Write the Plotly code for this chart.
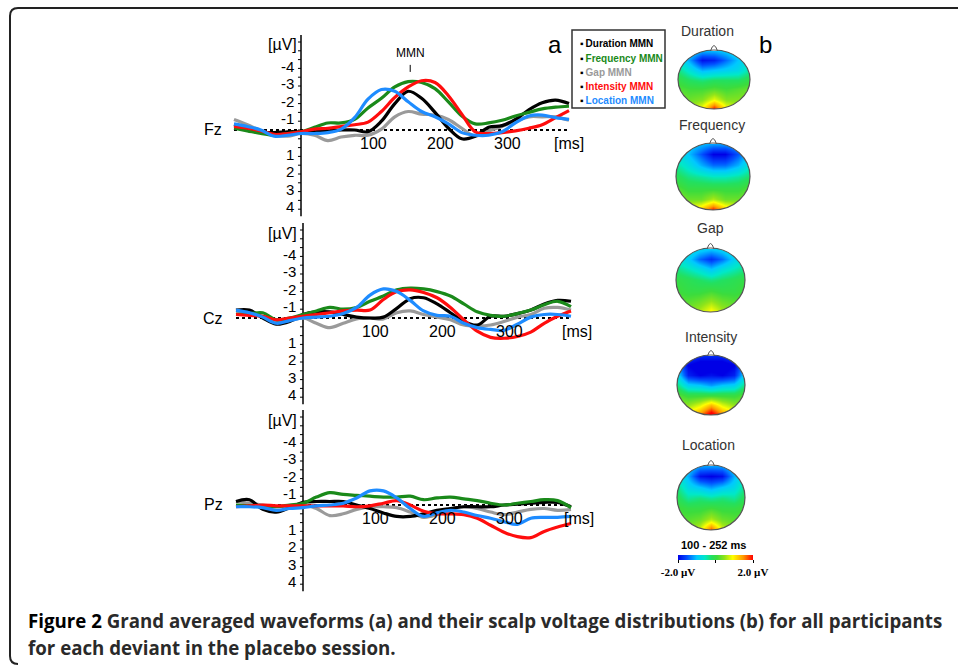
import plotly.graph_objects as go

W, H = 958, 666
def PX(x): return x / W
def PY(y): return 1 - y / H

# ---------------- DATA ----------------
times = [-100, -80, -60, -40, -20, 0, 20, 40, 60, 80, 100, 120, 140, 160, 180,
         200, 220, 240, 260, 280, 300, 320, 340, 360, 380, 400]

series_names = ["Duration MMN", "Frequency MMN", "Gap MMN", "Intensity MMN", "Location MMN"]
channels = ["Fz", "Cz", "Pz"]

# amplitudes in microvolts (negative = up)
fz_duration  = [-0.3,-0.1,0.1,0.15,0.1,0.1,0.1,0.05,0.0,0.0,0.1,-0.5,-1.5,-2.2,-1.8,-1.0,-0.1,0.5,0.35,-0.15,-0.25,-0.6,-1.15,-1.55,-1.7,-1.5]
fz_frequency = [-0.1,0.05,0.2,0.3,0.2,0.1,-0.15,-0.4,-0.4,-0.6,-1.25,-1.8,-2.45,-2.75,-2.7,-2.35,-1.6,-0.8,-0.35,-0.4,-0.55,-0.8,-1.0,-1.2,-1.3,-1.35]
fz_gap       = [-0.6,-0.3,0.05,0.3,0.35,0.2,0.3,0.6,0.4,0.3,0.3,-0.05,-0.75,-1.05,-0.9,-0.85,-0.6,-0.1,0.35,0.05,-0.2,-0.5,-0.75,-0.75,-0.75,-0.55]
fz_intensity = [-0.2,-0.1,0.05,0.25,0.2,0.1,-0.05,-0.1,-0.2,-0.3,-0.45,-1.05,-1.85,-2.45,-2.8,-2.7,-1.95,-0.9,0.1,0.2,0.15,0.05,-0.1,-0.3,-0.7,-1.1]
fz_location  = [-0.35,-0.2,0.0,0.35,0.3,0.2,0.2,0.15,-0.05,-0.7,-1.75,-2.3,-2.2,-1.6,-1.05,-0.75,-0.35,0.15,0.3,0.3,0.1,-0.4,-0.8,-0.85,-0.7,-0.6]

cz_duration  = [-0.45,-0.45,0.0,0.35,0.2,-0.2,-0.35,-0.35,-0.2,-0.05,0.0,-0.05,-0.55,-1.1,-1.15,-0.8,-0.3,0.2,0.4,-0.1,-0.1,-0.25,-0.45,-0.8,-1.0,-0.95]
cz_frequency = [-0.2,-0.25,-0.3,0.1,0.0,-0.2,-0.4,-0.6,-0.5,-0.6,-0.95,-1.25,-1.6,-1.7,-1.65,-1.5,-1.25,-0.8,-0.35,-0.15,-0.1,-0.25,-0.45,-0.75,-0.95,-0.65]
cz_gap       = [-0.3,-0.25,-0.1,0.2,0.15,0.0,0.3,0.55,0.3,0.05,0.0,0.05,-0.3,-0.4,-0.2,-0.05,0.1,0.4,0.45,0.4,0.2,-0.05,-0.2,-0.55,-0.6,-0.45]
cz_intensity = [-0.2,-0.15,-0.1,0.1,0.0,-0.1,-0.2,-0.3,-0.4,-0.45,-0.45,-1.05,-1.5,-1.6,-1.45,-1.15,-0.6,0.1,0.75,1.1,1.15,1.05,0.8,0.3,-0.1,-0.4]
cz_location  = [-0.45,-0.3,-0.05,0.3,0.15,0.0,-0.05,-0.1,-0.25,-0.6,-1.3,-1.65,-1.5,-1.0,-0.4,-0.15,-0.1,0.3,0.55,0.65,0.7,0.35,-0.05,-0.2,-0.2,-0.1]

pz_duration  = [-0.2,-0.3,0.25,0.4,0.15,-0.15,-0.2,-0.2,-0.2,0.0,0.2,0.45,0.65,0.65,0.5,0.3,0.2,0.1,0.1,0.1,0.0,-0.05,-0.1,-0.15,-0.15,0.1]
pz_frequency = [0.0,0.05,0.1,0.1,0.0,-0.1,-0.45,-0.7,-0.6,-0.55,-0.5,-0.45,-0.45,-0.5,-0.3,-0.4,-0.45,-0.35,-0.25,-0.1,0.0,-0.1,-0.2,-0.3,-0.25,0.15]
pz_gap       = [-0.2,-0.1,0.0,0.1,0.05,0.0,0.2,0.6,0.5,0.25,0.1,0.1,0.15,0.4,0.7,0.55,0.25,0.1,0.2,0.4,0.55,0.4,0.25,0.2,0.3,0.25]
pz_intensity = [0.1,0.05,0.0,0.05,0.05,0.05,0.05,0.05,0.05,0.1,0.05,-0.1,-0.25,0.0,0.35,0.5,0.5,0.55,0.75,1.15,1.55,1.8,1.85,1.5,1.25,1.05]
pz_location  = [0.1,0.1,0.15,0.3,0.2,0.15,0.05,0.0,-0.1,-0.4,-0.8,-0.8,-0.4,0.2,0.65,0.45,0.3,0.4,0.6,0.75,0.95,1.1,0.75,0.7,0.7,0.65]

y_ticks = [-4, -3, -2, -1, 1, 2, 3, 4]
x_ticks = [100, 200, 300]

# scalp maps (rows front->back, cols left->right), microvolts
map_titles = ["Duration", "Frequency", "Gap", "Intensity", "Location"]
map_duration = [
    [-0.6, -0.8, -1.0, -1.0, -0.9, -0.7, -0.6],
    [-0.6, -1.2, -1.9, -1.8, -1.4, -1.0, -0.6],
    [-0.3, -0.7, -1.1, -1.0, -0.9, -0.8, -0.4],
    [0.0, -0.2, -0.3, -0.2, -0.2, -0.2, 0.0],
    [0.2, 0.1, 0.1, 0.2, 0.1, 0.2, 0.3],
    [0.4, 0.3, 0.4, 0.8, 0.4, 0.4, 0.5],
    [0.5, 0.5, 1.0, 2.0, 1.0, 0.6, 0.6]]
map_frequency = [
    [-0.8, -0.9, -1.0, -1.1, -1.1, -1.0, -0.8],
    [-0.7, -1.0, -1.5, -2.0, -2.0, -1.5, -0.9],
    [-0.4, -0.7, -1.1, -1.4, -1.4, -1.1, -0.6],
    [-0.1, -0.3, -0.4, -0.5, -0.5, -0.4, -0.2],
    [0.2, 0.0, 0.0, 0.0, 0.0, 0.0, 0.2],
    [0.5, 0.3, 0.3, 0.6, 0.3, 0.3, 0.5],
    [0.8, 0.9, 1.3, 2.0, 1.3, 0.9, 0.8]]
map_gap = [
    [-0.5, -0.6, -0.8, -0.9, -0.8, -0.6, -0.5],
    [-0.6, -0.9, -1.4, -1.7, -1.4, -0.9, -0.6],
    [-0.3, -0.5, -0.7, -1.0, -0.7, -0.5, -0.3],
    [0.0, -0.1, -0.2, -0.3, -0.2, -0.1, 0.0],
    [0.1, 0.0, 0.0, 0.1, 0.0, 0.0, 0.1],
    [0.2, 0.2, 0.3, 0.5, 0.3, 0.2, 0.2],
    [0.3, 0.4, 0.6, 1.0, 0.6, 0.4, 0.3]]
map_intensity = [
    [-1.3, -1.5, -1.7, -1.7, -1.7, -1.5, -1.3],
    [-1.2, -2.0, -2.2, -2.2, -2.2, -2.0, -1.2],
    [-0.8, -1.8, -2.0, -1.9, -2.0, -1.8, -0.8],
    [-0.3, -0.9, -1.0, -1.2, -1.0, -0.9, -0.3],
    [0.2, 0.0, 0.0, 0.0, 0.0, 0.0, 0.2],
    [0.5, 0.5, 0.8, 1.3, 0.8, 0.5, 0.5],
    [0.9, 1.1, 1.6, 2.3, 1.6, 1.1, 0.9]]
map_location = [
    [-0.7, -0.9, -1.1, -1.1, -1.1, -0.9, -0.7],
    [-0.6, -1.1, -1.9, -2.0, -1.9, -1.1, -0.6],
    [-0.3, -0.8, -1.0, -1.2, -1.0, -0.8, -0.3],
    [-0.1, -0.4, -0.3, -0.4, -0.3, -0.4, -0.1],
    [0.1, 0.0, 0.0, 0.1, 0.0, 0.0, 0.1],
    [0.2, 0.2, 0.3, 0.6, 0.3, 0.2, 0.2],
    [0.4, 0.4, 0.8, 1.8, 0.8, 0.4, 0.4]]
cbar_range = [-2.0, 2.0]
cbar_labels = ["-2.0 µV", "2.0 µV"]
window_label = "100 - 252 ms"

caption1 = "Figure 2"
caption1b = " Grand averaged waveforms (a) and their scalp voltage distributions (b) for all participants"
caption2 = "for each deviant in the placebo session."

# ---------------- STYLE / LAYOUT ----------------
ARIAL = "Liberation Sans, Arial, sans-serif"
colors = {"Duration MMN": "#000000", "Frequency MMN": "#1a8a1a", "Gap MMN": "#9a9a9a",
          "Intensity MMN": "#ff0d0d", "Location MMN": "#1e8cff"}
draw_order = ["Gap MMN", "Duration MMN", "Frequency MMN", "Intensity MMN", "Location MMN"]

data = {
    "Fz": dict(zip(series_names, [fz_duration, fz_frequency, fz_gap, fz_intensity, fz_location])),
    "Cz": dict(zip(series_names, [cz_duration, cz_frequency, cz_gap, cz_intensity, cz_location])),
    "Pz": dict(zip(series_names, [pz_duration, pz_frequency, pz_gap, pz_intensity, pz_location])),
}

PXMS = 0.67     # px per ms
PXUV = 17.6     # px per microvolt
panels = [
    dict(ch="Fz", zero=130, t0=301, top=20, bot=218, ms_t=400),
    dict(ch="Cz", zero=318, t0=303, top=218, bot=408, ms_t=409),
    dict(ch="Pz", zero=505, t0=303, top=408, bot=600, ms_t=412),
]

fig = go.Figure()
shapes, annos = [], []
layout_axes = {}

for i, p in enumerate(panels):
    sfx = "" if i == 0 else str(i + 1)
    xa, ya = "x" + sfx, "y" + sfx
    xl, yl = 195, 605
    layout_axes["xaxis" + sfx] = dict(domain=[PX(xl), PX(yl)],
                                      range=[(xl - p["t0"]) / PXMS, (yl - p["t0"]) / PXMS],
                                      visible=False, anchor=ya, fixedrange=True)
    layout_axes["yaxis" + sfx] = dict(domain=[PY(p["bot"]), PY(p["top"])],
                                      range=[(p["bot"] - p["zero"]) / PXUV, (p["top"] - p["zero"]) / PXUV],
                                      visible=False, anchor=xa, fixedrange=True)
    shapes.append(dict(type="line", xref=xa, yref=ya, x0=times[0], x1=times[-1], y0=0, y1=0,
                       line=dict(color="#000", width=2, dash="dot"), layer="below"))
    shapes.append(dict(type="line", xref=xa, yref=ya, x0=0, x1=0, y0=-5.4, y1=4.9,
                       line=dict(color="#000", width=1.5), layer="below"))
    for k in range(-10, 10):
        v = k * 0.5
        shapes.append(dict(type="line", xref=xa, yref=ya, x0=-4.5, x1=0, y0=v, y1=v,
                           line=dict(color="#000", width=1), layer="below"))
    for name in draw_order:
        fig.add_trace(go.Scatter(x=times, y=data[p["ch"]][name], mode="lines",
                                 line=dict(color=colors[name], width=3.2, shape="spline", smoothing=1.0),
                                 xaxis=xa, yaxis=ya, showlegend=False, hoverinfo="skip"))
    for v in y_ticks:
        annos.append(dict(xref=xa, yref=ya, x=-7, y=v, text=str(v), showarrow=False,
                          xanchor="right", yanchor="middle", yshift=-6.5,
                          font=dict(family=ARIAL, size=15, color="#000")))
    for t in x_ticks:
        annos.append(dict(xref=xa, yref=ya, x=t, y=0, text=str(t), showarrow=False,
                          xanchor="center", yanchor="middle", yshift=-13, xshift=5,
                          font=dict(family=ARIAL, size=16, color="#000")))
    annos.append(dict(xref=xa, yref=ya, x=p["ms_t"], y=0, text="[ms]", showarrow=False,
                      xanchor="center", yanchor="middle", yshift=-13,
                      font=dict(family=ARIAL, size=16, color="#000")))
    annos.append(dict(xref="paper", yref="paper", x=PX(282), y=PY(p["zero"] - 85), text="[µV]",
                      showarrow=False, xanchor="center", yanchor="middle",
                      font=dict(family=ARIAL, size=16, color="#000")))
    annos.append(dict(xref="paper", yref="paper", x=PX(213), y=PY(p["zero"]), text=p["ch"],
                      showarrow=False, xanchor="center", yanchor="middle",
                      font=dict(family=ARIAL, size=16, color="#000")))

# MMN marker on Fz
annos.append(dict(xref="x", yref="y", x=163, y=-4.4, text="MMN", showarrow=False,
                  xanchor="center", yanchor="middle", font=dict(family=ARIAL, size=12, color="#000")))
shapes.append(dict(type="line", xref="x", yref="y", x0=163, x1=163, y0=-3.7, y1=-3.3,
                   line=dict(color="#000", width=1)))

# panel letters
annos.append(dict(xref="paper", yref="paper", x=PX(555), y=PY(45), text="a", showarrow=False,
                  xanchor="center", yanchor="middle", font=dict(family=ARIAL, size=24, color="#000")))
annos.append(dict(xref="paper", yref="paper", x=PX(765), y=PY(45), text="b", showarrow=False,
                  xanchor="center", yanchor="middle", font=dict(family=ARIAL, size=24, color="#000")))

# legend box
shapes.append(dict(type="rect", xref="paper", yref="paper", x0=PX(572), x1=PX(665), y0=PY(108), y1=PY(30),
                   line=dict(color="#333", width=1.5), fillcolor="white"))
for j, name in enumerate(series_names):
    yy = 44 + j * 14.2
    annos.append(dict(xref="paper", yref="paper", x=PX(578), y=PY(yy),
                      text="<b><span style='color:#000'>▪</span>\u2009" + name + "</b>",
                      showarrow=False, xanchor="left", yanchor="middle",
                      font=dict(family=ARIAL, size=10, color=colors[name])))

# scalp maps
colorscale = [[0.0, "#0000e6"], [0.12, "#0050ff"], [0.25, "#00c8ff"], [0.36, "#00e8c8"],
              [0.45, "#22e060"], [0.52, "#3cdc3c"], [0.62, "#8fe41a"], [0.73, "#ffff00"],
              [0.87, "#ff9900"], [1.0, "#ff0000"]]
heads = [  # cx, cy, rx, ry, title_y, title_x
    (714, 79.5, 36, 29.5, 31, 707),
    (713, 176.5, 37, 33.5, 125, 712),
    (710.5, 280, 34.5, 32, 228, 710),
    (711, 385, 34, 30, 337, 711),
    (711, 497.5, 34, 32.5, 445, 708),
]
maps = [map_duration, map_frequency, map_gap, map_intensity, map_location]
K = 0.5523
def pt(x, y): return f"{PX(x):.5f},{PY(y):.5f}"
for m, (cx, cy, rx, ry, ty, tx) in enumerate(heads):
    n = m + 4
    xa, ya = f"x{n}", f"y{n}"
    layout_axes[f"xaxis{n}"] = dict(domain=[PX(cx - rx), PX(cx + rx)], range=[0, 6], visible=False,
                                    anchor=ya, fixedrange=True)
    layout_axes[f"yaxis{n}"] = dict(domain=[PY(cy + ry), PY(cy - ry)], range=[6, 0], visible=False,
                                    anchor=xa, fixedrange=True)
    fig.add_trace(go.Heatmap(z=maps[m], x=list(range(7)), y=list(range(7)), coloraxis="coloraxis",
                             zsmooth="best", xaxis=xa, yaxis=ya, hoverinfo="skip"))
    pad = 3
    L, R, T, B = cx - rx - pad, cx + rx + pad, cy - ry - pad, cy + ry + pad
    path = (f"M{pt(L,T)} L{pt(R,T)} L{pt(R,B)} L{pt(L,B)} Z "
            f"M{pt(cx, cy-ry)} "
            f"C{pt(cx-K*rx, cy-ry)} {pt(cx-rx, cy-K*ry)} {pt(cx-rx, cy)} "
            f"C{pt(cx-rx, cy+K*ry)} {pt(cx-K*rx, cy+ry)} {pt(cx, cy+ry)} "
            f"C{pt(cx+K*rx, cy+ry)} {pt(cx+rx, cy+K*ry)} {pt(cx+rx, cy)} "
            f"C{pt(cx+rx, cy-K*ry)} {pt(cx+K*rx, cy-ry)} {pt(cx, cy-ry)} Z")
    shapes.append(dict(type="path", xref="paper", yref="paper", path=path,
                       fillcolor="white", line=dict(width=0)))
    nose = f"M{pt(cx-3.5, cy-ry+1)} Q{pt(cx, cy-ry-10)} {pt(cx+3.5, cy-ry+1)}"
    shapes.append(dict(type="path", xref="paper", yref="paper", path=nose,
                       fillcolor="white", line=dict(color="#555", width=1)))
    shapes.append(dict(type="circle", xref="paper", yref="paper", x0=PX(cx - rx), x1=PX(cx + rx),
                       y0=PY(cy + ry), y1=PY(cy - ry), line=dict(color="#555", width=1.2)))
    annos.append(dict(xref="paper", yref="paper", x=PX(tx), y=PY(ty), text=map_titles[m],
                      showarrow=False, xanchor="center", yanchor="middle",
                      font=dict(family=ARIAL, size=14, color="#333")))

annos.append(dict(xref="paper", yref="paper", x=PX(713), y=PY(545), text="<b>" + window_label + "</b>",
                  showarrow=False, xanchor="center", yanchor="middle",
                  font=dict(family=ARIAL, size=11, color="#000")))

# frame
frame = (f"M{pt(960, 8)} L{pt(18, 8)} Q{pt(10, 8)} {pt(10, 16)} L{pt(10, 656)} "
         f"Q{pt(10, 664)} {pt(18, 664)}")
shapes.append(dict(type="path", xref="paper", yref="paper", path=frame,
                   line=dict(color="#222", width=2)))

# caption
annos.append(dict(xref="paper", yref="paper", x=PX(26), y=PY(620),
                  text="<b><span style='color:#000'>" + caption1 + "</span>" + caption1b + "</b>",
                  showarrow=False, xanchor="left", yanchor="middle",
                  font=dict(family="Open Sans, sans-serif", size=18.7, color="#2a2a2a")))
annos.append(dict(xref="paper", yref="paper", x=PX(26), y=PY(647), text="<b>" + caption2 + "</b>",
                  showarrow=False, xanchor="left", yanchor="middle",
                  font=dict(family="Open Sans, sans-serif", size=18.7, color="#2a2a2a")))

fig.update_layout(
    width=W, height=H, margin=dict(l=0, r=0, t=0, b=0),
    paper_bgcolor="white", plot_bgcolor="rgba(0,0,0,0)",
    showlegend=False, shapes=shapes, annotations=annos,
    coloraxis=dict(cmin=cbar_range[0], cmax=cbar_range[1], colorscale=colorscale,
                   colorbar=dict(orientation="h", x=PX(715.5), xanchor="center",
                                 y=PY(555), yanchor="top", len=75, lenmode="pixels",
                                 thickness=5, thicknessmode="pixels", outlinewidth=0,
                                 xpad=0, ypad=0, ticks="outside", ticklen=3, tickcolor="#000",
                                 tickvals=[cbar_range[0], 0, cbar_range[1]],
                                 ticktext=["<b>" + cbar_labels[0] + "</b>", "", "<b>" + cbar_labels[1] + "</b>"],
                                 tickfont=dict(family="Liberation Serif, serif", size=11, color="#000"))),
    **layout_axes,
)

fig.write_html("out.html", config={"staticPlot": True},
               post_script="document.body.style.margin='0';document.body.style.padding='0';")
